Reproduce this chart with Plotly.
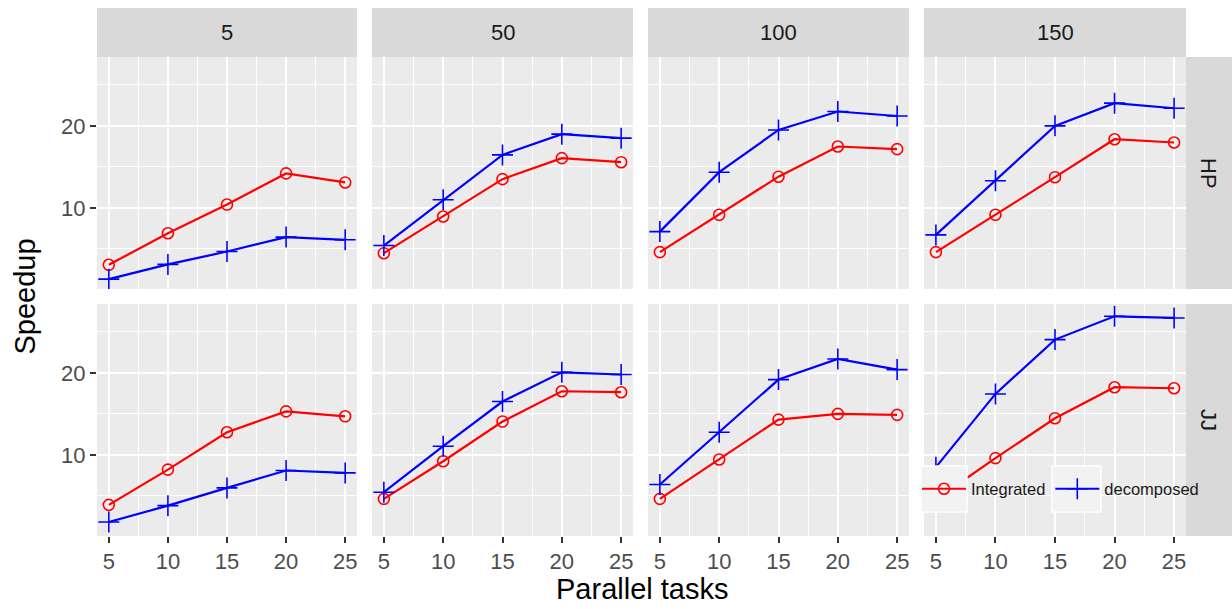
import plotly.graph_objects as go

# ---------------- data ----------------
tasks = [5, 10, 15, 20, 25]
col_labels = ["5", "50", "100", "150"]
row_labels = ["HP", "JJ"]
series_names = ["Integrated", "decomposed"]

hp_integrated_5 = [3.05, 6.9, 10.4, 14.2, 13.1]
hp_integrated_50 = [4.47, 8.94, 13.5, 16.06, 15.57]
hp_integrated_100 = [4.6, 9.15, 13.8, 17.48, 17.16]
hp_integrated_150 = [4.6, 9.15, 13.74, 18.37, 17.97]

hp_decomposed_5 = [1.3, 3.1, 4.67, 6.43, 6.1]
hp_decomposed_50 = [5.4, 10.98, 16.46, 18.99, 18.5]
hp_decomposed_100 = [7.1, 14.35, 19.5, 21.75, 21.2]
hp_decomposed_150 = [6.7, 13.3, 20.0, 22.77, 22.15]

jj_integrated_5 = [3.9, 8.2, 12.76, 15.3, 14.7]
jj_integrated_50 = [4.63, 9.22, 14.06, 17.76, 17.64]
jj_integrated_100 = [4.63, 9.43, 14.3, 15.0, 14.88]
jj_integrated_150 = [4.55, 9.6, 14.46, 18.25, 18.12]

jj_decomposed_5 = [1.8, 3.8, 5.97, 8.09, 7.8]
jj_decomposed_50 = [5.44, 11.05, 16.5, 20.07, 19.8]
jj_decomposed_100 = [6.38, 12.76, 19.18, 21.7, 20.4]
jj_decomposed_150 = [8.5, 17.43, 24.06, 26.9, 26.7]

x_ticks = [5, 10, 15, 20, 25]
y_ticks = [10, 20]

data = {
    ("HP", "Integrated"): [hp_integrated_5, hp_integrated_50, hp_integrated_100, hp_integrated_150],
    ("HP", "decomposed"): [hp_decomposed_5, hp_decomposed_50, hp_decomposed_100, hp_decomposed_150],
    ("JJ", "Integrated"): [jj_integrated_5, jj_integrated_50, jj_integrated_100, jj_integrated_150],
    ("JJ", "decomposed"): [jj_decomposed_5, jj_decomposed_50, jj_decomposed_100, jj_decomposed_150],
}

# ---------------- layout constants ----------------
W, H = 1232, 609
FONT = "Liberation Sans, Arial, sans-serif"
panel_x = [(97, 357), (372, 633), (648, 909), (924, 1186)]
panel_y = [(57, 289), (304, 536)]
strip_top = (8, 57)
strip_right = (1186, 1232)

styles = {
    "Integrated": dict(color="#ff0000", symbol="circle-open", size=11),
    "decomposed": dict(color="#0000ff", symbol="cross-thin-open", size=15),
}

def px_x(v):
    return v / W

def px_y(v):
    return 1 - v / H

fig = go.Figure()
layout = dict(
    width=W, height=H, autosize=False,
    margin=dict(l=0, r=0, t=0, b=0),
    paper_bgcolor="white", plot_bgcolor="#ebebeb",
    showlegend=True,
    font=dict(family=FONT),
)

shapes = []
annotations = []

for r, row in enumerate(row_labels):
    for c, col in enumerate(col_labels):
        n = r * 4 + c + 1
        xa = "x" if n == 1 else f"x{n}"
        ya = "y" if n == 1 else f"y{n}"
        xkey = "xaxis" if n == 1 else f"xaxis{n}"
        ykey = "yaxis" if n == 1 else f"yaxis{n}"
        x0, x1 = panel_x[c]
        y0, y1 = panel_y[r]
        bottom = r == len(row_labels) - 1
        left = c == 0
        layout[xkey] = dict(
            domain=[px_x(x0), px_x(x1)], anchor=ya, range=[4, 26],
            tickvals=x_ticks, showticklabels=bottom,
            ticks="outside" if bottom else "", ticklen=6, tickwidth=1.6, tickcolor="#333333",
            tickfont=dict(size=22, color="#4d4d4d", family=FONT),
            showgrid=True, gridcolor="white", gridwidth=1.8,
            minor=dict(tickvals=[7.5, 12.5, 17.5, 22.5], showgrid=True, gridcolor="white", gridwidth=0.9, ticks=""),
            zeroline=False, showline=False, fixedrange=True,
        )
        layout[ykey] = dict(
            domain=[px_y(y1), px_y(y0)], anchor=xa, range=[0.1, 28.4],
            tickvals=y_ticks, showticklabels=left,
            ticks="outside" if left else "", ticklen=6, tickwidth=1.6, tickcolor="#333333",
            tickfont=dict(size=22, color="#4d4d4d", family=FONT),
            showgrid=True, gridcolor="white", gridwidth=1.8,
            minor=dict(tickvals=[5, 15, 25], showgrid=True, gridcolor="white", gridwidth=0.9, ticks=""),
            zeroline=False, showline=False, fixedrange=True,
        )
        for s in series_names:
            st = styles[s]
            fig.add_trace(go.Scatter(
                x=tasks, y=data[(row, s)][c], xaxis=xa, yaxis=ya,
                mode="lines+markers", name=s, legendgroup=s,
                showlegend=(n == 1),
                line=dict(color=st["color"], width=2.2),
                marker=dict(symbol=st["symbol"], size=st["size"], color=st["color"],
                            line=dict(color=st["color"], width=1.6)),
            ))

# top strips
for c, col in enumerate(col_labels):
    x0, x1 = panel_x[c]
    shapes.append(dict(type="rect", xref="paper", yref="paper",
                       x0=px_x(x0), x1=px_x(x1), y0=px_y(strip_top[1]), y1=px_y(strip_top[0]),
                       fillcolor="#d9d9d9", line=dict(width=0), layer="below"))
    annotations.append(dict(text=col, xref="paper", yref="paper",
                            x=px_x((x0 + x1) / 2), y=px_y((strip_top[0] + strip_top[1]) / 2),
                            xanchor="center", yanchor="middle", showarrow=False,
                            font=dict(size=22, color="#1a1a1a", family=FONT)))
# right strips
for r, row in enumerate(row_labels):
    y0, y1 = panel_y[r]
    shapes.append(dict(type="rect", xref="paper", yref="paper",
                       x0=px_x(strip_right[0]), x1=px_x(strip_right[1]), y0=px_y(y1), y1=px_y(y0),
                       fillcolor="#d9d9d9", line=dict(width=0), layer="below"))
    annotations.append(dict(text=row, xref="paper", yref="paper",
                            x=px_x((strip_right[0] + strip_right[1]) / 2), y=px_y((y0 + y1) / 2),
                            xanchor="center", yanchor="middle", showarrow=False, textangle=90,
                            font=dict(size=22, color="#1a1a1a", family=FONT)))

# axis titles
annotations.append(dict(text="Parallel tasks", xref="paper", yref="paper",
                        x=px_x((panel_x[0][0] + panel_x[-1][1]) / 2), y=px_y(589),
                        xanchor="center", yanchor="middle", showarrow=False,
                        font=dict(size=29, color="#000000", family=FONT)))
annotations.append(dict(text="Speedup", xref="paper", yref="paper",
                        x=px_x(24), y=px_y((panel_y[0][0] + panel_y[-1][1]) / 2),
                        xanchor="center", yanchor="middle", showarrow=False, textangle=-90,
                        font=dict(size=29, color="#000000", family=FONT)))

# legend key backgrounds
for kx0, kx1 in [(921, 967), (1052, 1101)]:
    shapes.append(dict(type="rect", xref="paper", yref="paper",
                       x0=px_x(kx0), x1=px_x(kx1), y0=px_y(512), y1=px_y(466),
                       fillcolor="#f2f2f2", line=dict(color="white", width=1.5), layer="above"))

layout["shapes"] = shapes
layout["annotations"] = annotations
layout["legend"] = dict(
    orientation="h", x=px_x(917), y=px_y(489), xanchor="left", yanchor="middle",
    bgcolor="rgba(0,0,0,0)", borderwidth=0, itemwidth=44,
    font=dict(size=16.5, color="#1a1a1a", family=FONT),
)

fig.update_layout(**layout)
fig.write_html(
    "out.html",
    config={"displayModeBar": False},
    post_script="document.body.style.margin='0';document.documentElement.style.overflow='hidden';document.body.style.overflow='hidden';",
)
